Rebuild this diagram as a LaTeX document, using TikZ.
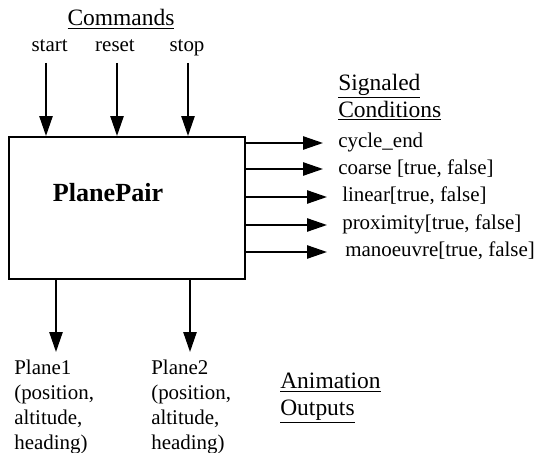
\documentclass[tikz,border=0pt]{standalone}
\usepackage{fontspec}
\setmainfont{Liberation Serif}
\usepackage{tikz}
\usetikzlibrary{arrows.meta, positioning}

\begin{document}
\begin{tikzpicture}[
  arrow/.style={-{Triangle[length=5mm, width=3.3mm]}, line width=1.4pt},
  blockbox/.style={draw, line width=1.4pt, minimum width=5.9cm, minimum height=3.55cm},
  lbl/.style={inner sep=0pt, font=\fontsize{14.9}{17.7}\selectfont},
  heading/.style={inner sep=0pt, align=left, font=\fontsize{16.7}{19.1}\selectfont}
]
\useasboundingbox (0,0) rectangle (13.425,-11.325);
% the block
\node[blockbox] (box) at (3.175,-5.2) {};
\node[anchor=base, inner sep=0pt, font=\fontsize{18.6}{22}\selectfont\bfseries] (name) at (2.7,-5.05) {PlanePair};
% commands
\node[heading, anchor=base] (commands) at (3.025,-0.65) {\underline{Commands}};
\node[lbl, anchor=base] (start) at (1.24,-1.3) {start};
\node[lbl, anchor=base] (reset) at (2.875,-1.3) {reset};
\node[lbl, anchor=base] (stop) at (4.675,-1.3) {stop};
\coordinate (inStart) at (1.15,-1.575);
\coordinate (inReset) at (2.925,-1.575);
\coordinate (inStop) at (4.7,-1.575);
\foreach \c in {inStart,inReset,inStop} \draw[arrow] (\c) -- (\c |- box.north);
% signaled conditions
\node[heading, anchor=north west] (signaled) at (8.45,-1.85) {\underline{Signaled}\\\underline{Conditions}};
\node[lbl, anchor=base west] (cycle) at (8.45,-3.7) {cycle\_end};
\node[lbl, anchor=base west] (coarse) at (8.45,-4.375) {coarse [true, false]};
\node[lbl, anchor=base west] (linear) at (8.55,-5.05) {linear[true, false]};
\node[lbl, anchor=base west] (proximity) at (8.55,-5.75) {proximity[true, false]};
\node[lbl, anchor=base west] (manoeuvre) at (8.625,-6.425) {manoeuvre[true, false]};
\coordinate (outCycle) at (8.075,-3.575);
\coordinate (outCoarse) at (8.075,-4.225);
\coordinate (outLinear) at (8.175,-4.925);
\coordinate (outProximity) at (8.175,-5.625);
\coordinate (outManoeuvre) at (8.175,-6.3);
\foreach \c in {outCycle,outCoarse,outLinear,outProximity,outManoeuvre} \draw[arrow] (\c -| box.east) -- (\c);
% animation outputs
\coordinate (outPlaneA) at (1.4,-8.8);
\coordinate (outPlaneB) at (4.75,-8.8);
\foreach \c in {outPlaneA,outPlaneB} \draw[arrow] (\c |- box.south) -- (\c);
\node[lbl, align=left, anchor=north west] (planeA) at (0.35,-9.0) {Plane1\\(position,\\altitude,\\heading)};
\node[lbl, align=left, anchor=north west] (planeB) at (3.775,-9.0) {Plane2\\(position,\\altitude,\\heading)};
\node[heading, anchor=north west] (animation) at (7.0,-9.325) {\underline{Animation}\\\underline{Outputs}};
\end{tikzpicture}
\end{document}
